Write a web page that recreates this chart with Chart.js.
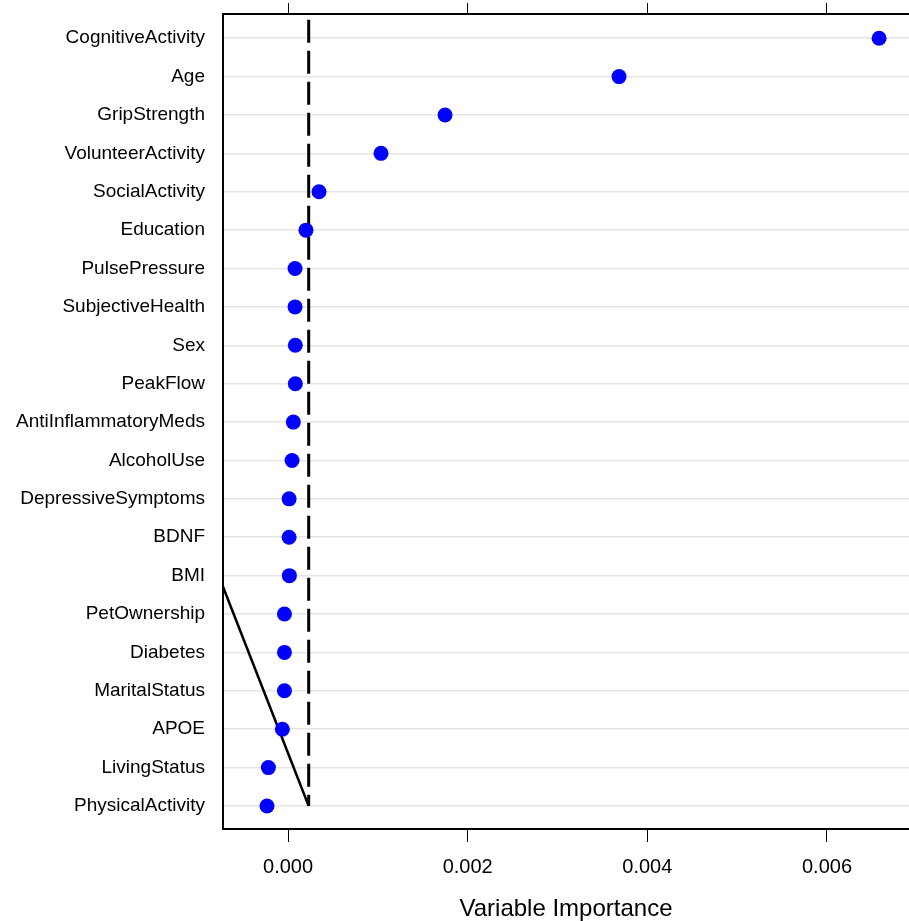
<!DOCTYPE html>
<html>
<head>
<meta charset="utf-8">
<script src="https://cdn.jsdelivr.net/npm/chart.js@4/dist/chart.umd.min.js"></script>
<style>
  html, body { margin: 0; padding: 0; background: #fff; overflow: hidden; }
  #wrap { width: 909px; height: 921px; overflow: hidden; }
  #importanceChart { display: block; width: 909px; height: 921px; }
</style>
</head>
<body>
<div id="wrap"><canvas id="importanceChart" width="909" height="921"></canvas></div>
<script>
// Variable importance (dotplot)
const categories = ['CognitiveActivity', 'Age', 'GripStrength', 'VolunteerActivity', 'SocialActivity',
    'Education', 'PulsePressure', 'SubjectiveHealth', 'Sex', 'PeakFlow', 'AntiInflammatoryMeds',
    'AlcoholUse', 'DepressiveSymptoms', 'BDNF', 'BMI', 'PetOwnership', 'Diabetes', 'MaritalStatus',
    'APOE', 'LivingStatus', 'PhysicalActivity'];
const importance = [0.00658, 0.003685, 0.001748, 0.001035, 0.000345,
    0.0002, 0.000078, 0.000078, 0.000081, 0.000081, 0.000059,
    0.000045, 0.000012, 0.000012, 0.000015, -0.00004, -0.00004, -0.00004,
    -0.000063, -0.000219, -0.000234];
const xTicks = [0, 0.002, 0.004, 0.006];

// dashed cutoff line and the solid reference line (x in importance units, y in row index)
const cutoffX = [0.00023, 0.00023];
const cutoffY = [-0.48, 20];
const refLineX = [-0.000724, 0.00023];
const refLineY = [14.29, 20];

const xMin = -0.000724;
const xMax = 0.006913;

const FONT = "'Liberation Sans', Arial, sans-serif";

// drop the label overhang padding chart.js adds, so the plot box sits where we want it
function noPadding(scale) {
    scale.paddingTop = 0;
    scale.paddingBottom = 0;
    scale.paddingLeft = 0;
    scale.paddingRight = 0;
}

const ctx = document.getElementById('importanceChart').getContext('2d');
const chart = new Chart(ctx, {
    type: 'scatter',
    data: {
        datasets: [{
            label: 'cutoff',
            data: cutoffX.map((x, i) => ({ x: x, y: cutoffY[i] })),
            showLine: true,
            borderColor: '#000',
            borderWidth: 3,
            borderDash: [23, 8],
            pointRadius: 0,
            xAxisID: 'x',
            order: 2
        }, {
            label: 'reference',
            data: refLineX.map((x, i) => ({ x: x, y: refLineY[i] })),
            showLine: true,
            borderColor: '#000',
            borderWidth: 2.5,
            pointRadius: 0,
            xAxisID: 'x',
            order: 3
        }, {
            label: 'importance',
            data: importance.map((v, i) => ({ x: v, y: i })),
            backgroundColor: '#0000ff',
            borderWidth: 0,
            pointRadius: 7.5,
            pointHoverRadius: 7.5,
            xAxisID: 'x',
            order: 1
        }]
    },
    options: {
        responsive: false,
        animation: false,
        layout: { padding: 0, autoPadding: false },
        plugins: {
            legend: { display: false },
            tooltip: { enabled: false }
        },
        scales: {
            x: {
                type: 'linear',
                position: 'bottom',
                min: xMin,
                max: xMax,
                afterBuildTicks: (scale) => { scale.ticks = xTicks.map(v => ({ value: v })); },
                afterFit: (scale) => { scale.height = 92; noPadding(scale); },
                grid: { drawOnChartArea: false, drawTicks: true, tickLength: 13, color: '#000', lineWidth: 1 },
                border: { display: true, color: '#000', width: 2 },
                ticks: {
                    padding: 13,
                    color: '#000',
                    font: { family: FONT, size: 20 },
                    callback: (v) => v.toFixed(3)
                },
                title: {
                    display: true,
                    text: 'Variable Importance',
                    color: '#000',
                    font: { family: FONT, size: 24, lineHeight: 1 },
                    padding: { top: 0, bottom: 0 }
                }
            },
            x2: {
                type: 'linear',
                position: 'top',
                min: xMin,
                max: xMax,
                afterBuildTicks: (scale) => { scale.ticks = xTicks.map(v => ({ value: v })); },
                afterFit: (scale) => { scale.height = 14; noPadding(scale); },
                grid: { drawOnChartArea: false, drawTicks: true, tickLength: 11, color: '#000', lineWidth: 1 },
                border: { display: true, color: '#000', width: 2 },
                ticks: { display: false }
            },
            y: {
                type: 'linear',
                reverse: true,
                min: -0.63,
                max: 20.6,
                afterBuildTicks: (scale) => { scale.ticks = categories.map((c, i) => ({ value: i })); },
                afterFit: (scale) => { scale.width = 223; noPadding(scale); },
                grid: { color: '#e6e6e6', lineWidth: 1.5, drawTicks: false },
                border: { display: true, color: '#000', width: 2 },
                ticks: {
                    padding: 18,
                    color: '#000',
                    font: { family: FONT, size: 19 },
                    callback: (v) => categories[v]
                }
            }
        }
    }
});
</script>
</body>
</html>
